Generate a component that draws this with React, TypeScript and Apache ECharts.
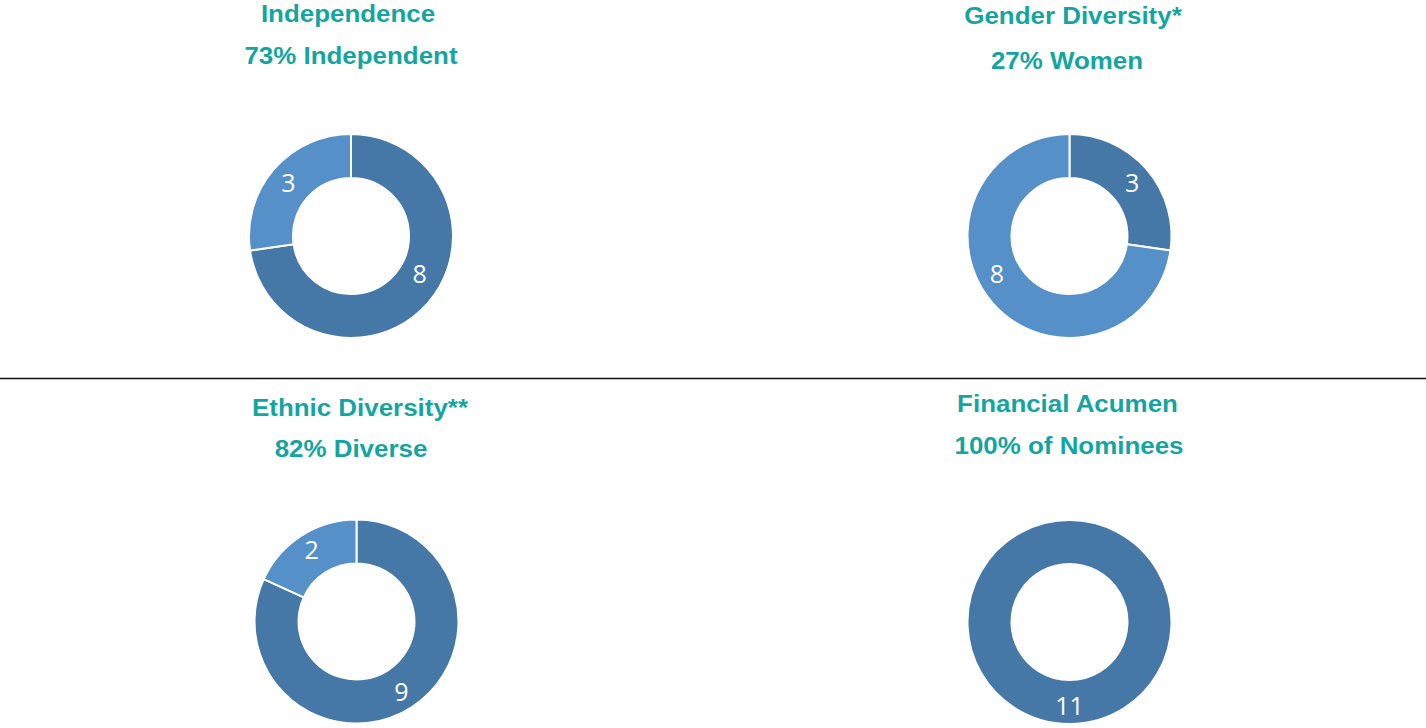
import React, { useEffect, useRef } from "react";
import * as echarts from "echarts";

const chartTitles = ["Independence", "Gender Diversity*", "Ethnic Diversity**", "Financial Acumen"];
const chartSubtitles = ["73% Independent", "27% Women", "82% Diverse", "100% of Nominees"];

const independenceNames = ["Independent", "Not Independent"];
const independenceValues = [8, 3];
const genderNames = ["Women", "Men"];
const genderValues = [3, 8];
const ethnicNames = ["Diverse", "Not Diverse"];
const ethnicValues = [9, 2];
const financialNames = ["Financial Acumen"];
const financialValues = [11];

const DARK = "#4577A7";
const LIGHT = "#5590C8";
const TEAL = "#14A5A0";

export default function App() {
  const ref = useRef<HTMLDivElement>(null);

  useEffect(() => {
    if (!ref.current) return;
    const chart = echarts.init(ref.current, undefined, { renderer: "svg" });

    const centers: [number, number][] = [
      [351, 236],
      [1069.5, 236],
      [356.5, 621.5],
      [1069.5, 622],
    ];
    const names = [independenceNames, genderNames, ethnicNames, financialNames];
    const values = [independenceValues, genderValues, ethnicValues, financialValues];
    // per-slice label offsets (layout only)
    const labelOffsets: ([number, number] | null)[][] = [
      [[6, -17], null],
      [null, [-10, -17]],
      [null, [0, -3]],
      [null],
    ];

    const titlePos: { x: number; y: number }[][] = [
      [{ x: 348, y: 13.5 }, { x: 351, y: 55.5 }],
      [{ x: 1073, y: 15 }, { x: 1067, y: 60 }],
      [{ x: 360, y: 407 }, { x: 351, y: 448 }],
      [{ x: 1067.5, y: 403.5 }, { x: 1069, y: 445 }],
    ];

    const graphic: any[] = [];
    chartTitles.forEach((t, i) => {
      [t, chartSubtitles[i]].forEach((txt, j) => {
        graphic.push({
          type: "text",
          x: titlePos[i][j].x,
          y: titlePos[i][j].y,
          scaleX: 1.08,
          style: {
            text: txt,
            fill: TEAL,
            font: "bold 24px 'Liberation Sans', Arial, sans-serif",
            textAlign: "center",
            textVerticalAlign: "middle",
          },
        });
      });
    });
    graphic.push({
      type: "line",
      shape: { x1: 0, y1: 378.5, x2: 1426, y2: 378.5 },
      style: { stroke: "#111111", lineWidth: 1.5 },
    });

    const series = values.map((vals, i) => ({
      type: "pie",
      center: centers[i],
      radius: [58, 102],
      startAngle: 90,
      clockwise: true,
      avoidLabelOverlap: false,
      emphasis: { disabled: true },
      itemStyle: { borderColor: "#ffffff", borderWidth: 2 },
      label: {
        show: true,
        position: "inside",
        color: "#ffffff",
        fontSize: 25,
        fontFamily: "'Open Sans', 'Noto Sans', sans-serif",
        formatter: "{c}",
      },
      labelLine: { show: false },
      data: vals.map((v, k) => {
        const item: any = {
          name: names[i][k],
          value: v,
          itemStyle: { color: k === 0 ? DARK : LIGHT },
        };
        const off = labelOffsets[i][k];
        if (off) item.label = { offset: off };
        return item;
      }),
    }));

    chart.setOption({
      animation: false,
      backgroundColor: "#ffffff",
      series,
      graphic,
    });

    return () => chart.dispose();
  }, []);

  return (
    <div
      ref={ref}
      style={{ position: "absolute", left: 0, top: 0, width: 1426, height: 728 }}
    />
  );
}
